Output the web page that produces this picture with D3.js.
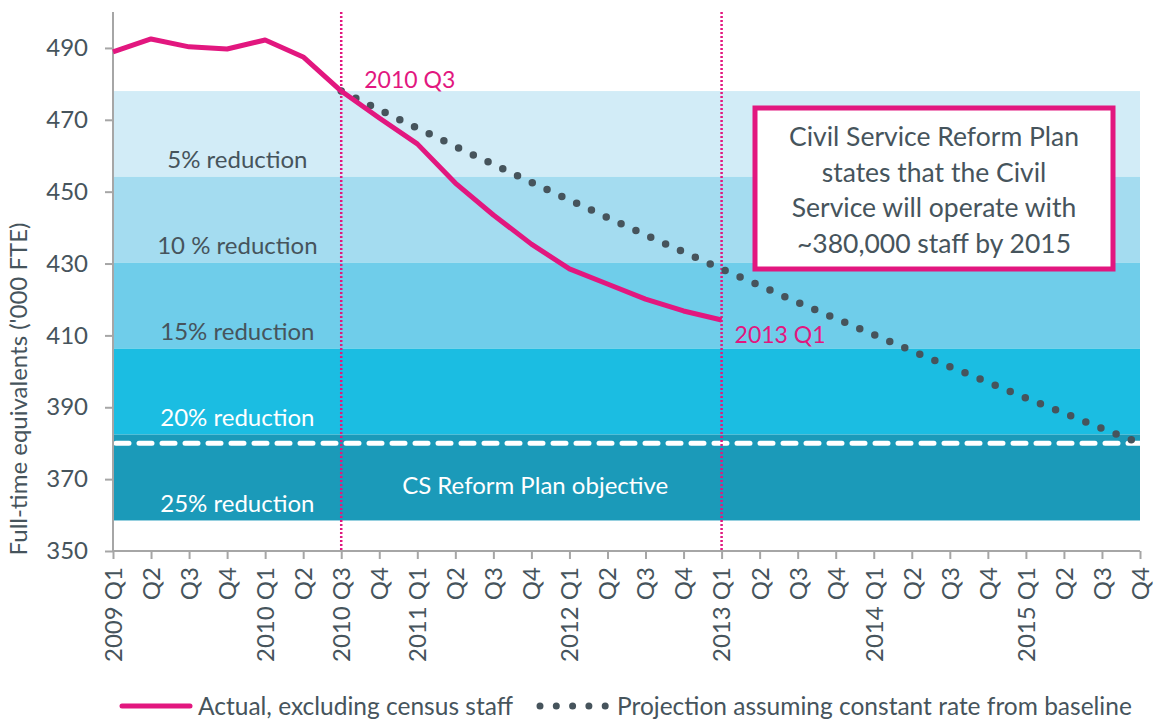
<!DOCTYPE html>
<html>
<head>
<meta charset="utf-8">
<script src="https://cdn.jsdelivr.net/npm/d3@7"></script>
<style>
  body { margin: 0; background: #fff; }
  svg { display: block; font-family: "Lato", "Open Sans", sans-serif; }
  .axis path, .axis line { stroke: #a6a6a6; stroke-width: 2; }
  .axis text { fill: #46545c; }
</style>
</head>
<body>
<svg id="figure"></svg>
<script>
// x categories (quarters) and their tick labels
const tickLabels = [
  "2009 Q1", "Q2", "Q3", "Q4",
  "2010 Q1", "Q2", "2010 Q3", "Q4",
  "2011 Q1", "Q2", "Q3", "Q4",
  "2012 Q1", "Q2", "Q3", "Q4",
  "2013 Q1", "Q2", "Q3", "Q4",
  "2014 Q1", "Q2", "Q3", "Q4",
  "2015 Q1", "Q2", "Q3", "Q4"
];
const yTicks = [350, 370, 390, 410, 430, 450, 470, 490];

// actual FTE ('000), 2009 Q1 .. 2013 Q1
const actual = [488.9, 492.5, 490.3, 489.7, 492.2, 487.5, 478.0, 470.5, 463.3,
  452.4, 443.5, 435.4, 428.5, 424.3, 420.1, 416.8, 414.3];

// projection, 2010 Q3 .. 2015 Q4
const projectionStart = 6;
const projection = [478.0, 472.8, 467.7, 462.6, 457.6, 452.6, 447.7, 442.8, 438.0,
  433.2, 428.5, 423.9, 419.2, 414.7, 410.2, 405.7, 401.3, 397.0, 392.6, 388.4,
  384.1, 380.0];

// reduction bands (upper, lower) from the 2010 Q3 baseline of 478
const bandEdges = [478, 454.1, 430.2, 406.3, 382.4, 358.5];
const bandLabels = ["5% reduction", "10 % reduction", "15% reduction", "20% reduction", "25% reduction"];
const bandColors = ["#d2ecf7", "#a4dcf0", "#6fcdea", "#1bbde2", "#1b9ab9"];
const bandTextColors = ["#46545c", "#46545c", "#46545c", "#ffffff", "#ffffff"];

const objective = 380;
const markers = [6, 16]; // 2010 Q3, 2013 Q1

const magenta = "#e2177f";
const dark = "#46545c";

const W = 1154, H = 722;
const margin = {top: 12, right: 14, bottom: 171, left: 113};

const svg = d3.select("#figure").attr("width", W).attr("height", H);

const x = d3.scalePoint()
  .domain(d3.range(tickLabels.length))
  .range([margin.left, W - margin.right]);
// position between categories
const xAt = v => x(0) + v * x.step();

const y = d3.scaleLinear()
  .domain([350, 500])
  .range([H - margin.bottom, margin.top]);

// bands
const bands = bandLabels.map((label, i) => ({
  label, top: bandEdges[i], bottom: bandEdges[i + 1], color: bandColors[i], text: bandTextColors[i]
}));

svg.append("g").selectAll("rect")
  .data(bands)
  .join("rect")
  .attr("x", x(0))
  .attr("width", x(tickLabels.length - 1) - x(0))
  .attr("y", d => y(d.top))
  .attr("height", d => y(d.bottom) - y(d.top))
  .attr("fill", d => d.color);

svg.append("g").selectAll("text")
  .data(bands)
  .join("text")
  .attr("x", xAt(3.27))
  .attr("y", d => y(d.bottom) - 17)
  .attr("dy", "0.35em")
  .attr("text-anchor", "middle")
  .attr("font-size", 24)
  .attr("fill", d => d.text)
  .text(d => d.label);

// objective dashed line
svg.append("line")
  .attr("x1", x(0) + 3).attr("x2", x(tickLabels.length - 1))
  .attr("y1", y(objective)).attr("y2", y(objective))
  .attr("stroke", "#fff")
  .attr("stroke-width", 5)
  .attr("stroke-linecap", "round")
  .attr("stroke-dasharray", "13 10");

svg.append("text")
  .attr("x", xAt(11.1))
  .attr("y", (y(objective) + y(bandEdges[5])) / 2 + 4)
  .attr("dy", "0.35em")
  .attr("text-anchor", "middle")
  .attr("font-size", 24)
  .attr("fill", "#fff")
  .text("CS Reform Plan objective");

// vertical marker lines
svg.append("g").selectAll("line")
  .data(markers)
  .join("line")
  .attr("x1", d => x(d)).attr("x2", d => x(d))
  .attr("y1", margin.top).attr("y2", y(350))
  .attr("stroke", magenta)
  .attr("stroke-width", 2.5)
  .attr("stroke-dasharray", "2 2");

// axes
const yAxis = svg.append("g")
  .attr("class", "axis")
  .attr("transform", `translate(${margin.left},0)`)
  .call(d3.axisLeft(y).tickValues(yTicks).tickSize(8).tickPadding(17));
yAxis.selectAll("text").attr("font-size", 24).style("font-family", "Lato");
yAxis.select(".domain").attr("d", `M0,${y(500)}V${y(350)}`);

const xAxis = svg.append("g")
  .attr("class", "axis")
  .attr("transform", `translate(0,${y(350)})`)
  .call(d3.axisBottom(x).tickSize(8).tickFormat(i => tickLabels[i]));
xAxis.select(".domain").attr("d", `M${x(0)},0H${x(tickLabels.length - 1)}`);
xAxis.selectAll("text")
  .attr("font-size", 24)
  .style("font-family", "Lato")
  .attr("transform", "rotate(-90)")
  .attr("x", -16)
  .attr("y", 0)
  .attr("dy", "0.35em")
  .style("text-anchor", "end");

// projection (dots)
const line = d3.line().x(d => x(d.i)).y(d => y(d.v));

svg.append("path")
  .datum(projection.map((v, k) => ({i: k + projectionStart, v})))
  .attr("d", line)
  .attr("fill", "none")
  .attr("stroke", dark)
  .attr("stroke-width", 7.5)
  .attr("stroke-linecap", "round")
  .attr("stroke-dasharray", "0 16.3");

// actual
svg.append("path")
  .datum(actual.map((v, i) => ({i, v})))
  .attr("d", line)
  .attr("fill", "none")
  .attr("stroke", magenta)
  .attr("stroke-width", 5)
  .attr("stroke-linejoin", "round");

// marker labels
svg.append("text")
  .attr("x", x(6) + 23).attr("y", 88)
  .attr("font-size", 23).attr("fill", magenta)
  .text("2010 Q3");
svg.append("text")
  .attr("x", x(16) + 13).attr("y", 343)
  .attr("font-size", 23).attr("fill", magenta)
  .text("2013 Q1");

// annotation box
const box = {x: 755, y: 108, w: 358, h: 161};
svg.append("rect")
  .attr("x", box.x).attr("y", box.y)
  .attr("width", box.w).attr("height", box.h)
  .attr("fill", "#fff")
  .attr("stroke", magenta)
  .attr("stroke-width", 5);

const noteLines = ["Civil Service Reform Plan", "states that the Civil",
  "Service will operate with", "~380,000 staff by 2015"];
svg.append("text")
  .attr("text-anchor", "middle")
  .attr("font-size", 26.5)
  .attr("fill", dark)
  .selectAll("tspan")
  .data(noteLines)
  .join("tspan")
  .attr("x", box.x + box.w / 2)
  .attr("y", (d, i) => 146 + i * 35.5)
  .text(d => d);

// y title
svg.append("text")
  .attr("transform", "translate(19,389) rotate(-90)")
  .attr("text-anchor", "middle")
  .attr("dy", "0.35em")
  .attr("font-size", 24)
  .attr("fill", dark)
  .text("Full-time equivalents ('000 FTE)");

// legend
const lg = svg.append("g");
lg.append("line")
  .attr("x1", 122).attr("x2", 190).attr("y1", 706).attr("y2", 706)
  .attr("stroke", magenta).attr("stroke-width", 5).attr("stroke-linecap", "round");
lg.append("text")
  .attr("x", 198).attr("y", 706).attr("dy", "0.35em")
  .attr("font-size", 24.5).attr("fill", dark)
  .text("Actual, excluding census staff");
lg.append("line")
  .attr("x1", 540).attr("x2", 606).attr("y1", 706).attr("y2", 706)
  .attr("stroke", dark).attr("stroke-width", 7)
  .attr("stroke-linecap", "round").attr("stroke-dasharray", "0 16.3");
lg.append("text")
  .attr("x", 617).attr("y", 706).attr("dy", "0.35em")
  .attr("font-size", 24.5).attr("fill", dark)
  .text("Projection assuming constant rate from baseline");
</script>
</body>
</html>
